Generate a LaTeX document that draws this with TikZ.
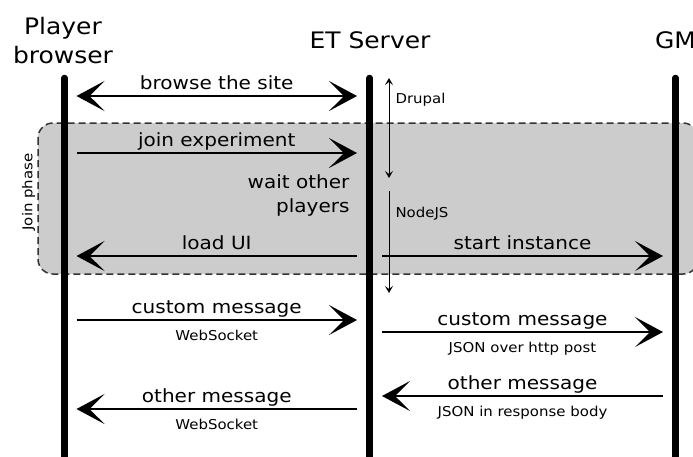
\documentclass[tikz,border=0pt]{standalone}
\usepackage{fontspec}
\setmainfont[FakeStretch=1.1]{DejaVu Sans}
\usetikzlibrary{arrows.meta}

\begin{document}
\begin{tikzpicture}[x=1pt,y=-1pt,
    lifeline/.style={line width=6.5pt,line cap=round},
    msg/.style={line width=1.5pt,>={Stealth[length=28pt,width=30pt,inset=15pt]}},
    span/.style={line width=1pt,>={Stealth[length=7pt,width=8pt,inset=3pt]}},
    phase/.style={draw=black!80,dash pattern=on 7pt off 4pt,line width=1.5pt,fill=black!20,rounded corners=15pt},
    title/.style={font=\fontsize{22.7}{27}\selectfont,anchor=base},
    lbl/.style={font=\fontsize{18.2}{22}\selectfont,anchor=base,yshift=7pt},
    sub/.style={font=\fontsize{13.6}{16}\selectfont,anchor=base,yshift=-20pt},
    note/.style={font=\fontsize{13.6}{16}\selectfont}]
            \useasboundingbox (0,0) rectangle (693,456);
            \clip (0,0) rectangle (693,456);

            % join phase
            \draw[phase] (38,123) rectangle (698,274);
            \node[note,rotate=90] (phaselbl) at (28.5,192) {Join phase};

            % actors
            \node[title] (pb1) at (63,34) {Player};
            \node[title] (pb2) at (63,63) {browser};
            \node[title] (etname) at (370,48.5) {ET Server};
            \node[title] (gmname) at (675.5,48.5) {GM};

            \foreach \n/\x in {pb/64.5,et/369.7,gm/675.5} {
                \coordinate (\n top) at (\x,78);
                \coordinate (\n bot) at (\x,470);
                \draw[lifeline] (\n top) -- (\n bot);
            }

            % message ends
            \foreach \n/\y in {browse/96,join/153,load/256,cmL/320,omL/409} {
                \coordinate (\n A) at (76.5,\y);
                \coordinate (\n B) at (357,\y);
            }
            \foreach \n/\y in {start/256,cmR/332,omR/396} {
                \coordinate (\n A) at (382,\y);
                \coordinate (\n B) at (663,\y);
            }

            \draw[msg,<->] (browseA) -- node[lbl] (browselbl) {browse the site} (browseB);
            \draw[msg,->] (joinA) -- node[lbl] (joinlbl) {join experiment} (joinB);
            \node[note,font=\fontsize{18.2}{22}\selectfont,anchor=base east] (wait1) at (353,188) {wait other};
            \node[note,font=\fontsize{18.2}{22}\selectfont,anchor=base east] (wait2) at (353,212) {players};
            \draw[msg,<-] (loadA) -- node[lbl] (loadlbl) {load UI} (loadB);
            \draw[msg,->] (startA) -- node[lbl] (startlbl) {start instance} (startB);

            \draw[msg,->] (cmLA) -- node[lbl] (cmLlbl) {custom message} node[sub] (cmLsub) {WebSocket} (cmLB);
            \draw[msg,<-] (omLA) -- node[lbl] (omLlbl) {other message} node[sub] (omLsub) {WebSocket} (omLB);
            \draw[msg,->] (cmRA) -- node[lbl] (cmRlbl) {custom message} node[sub] (cmRsub) {JSON over http post} (cmRB);
            \draw[msg,<-] (omRA) -- node[lbl] (omRlbl) {other message} node[sub] (omRsub) {JSON in response body} (omRB);

            % server parts
            \coordinate (dtop) at (389,78);
            \coordinate (dbot) at (389,178);
            \coordinate (ntop) at (389,191);
            \coordinate (nbot) at (389,293);
            \draw[span,<->] (dtop) -- (dbot);
            \draw[span,->] (ntop) -- (nbot);
            \node[note,anchor=base west] (drupal) at (392,103) {Drupal};
            \node[note,anchor=base west] (nodejs) at (392,217) {NodeJS};
        \end{tikzpicture}
\end{document}
